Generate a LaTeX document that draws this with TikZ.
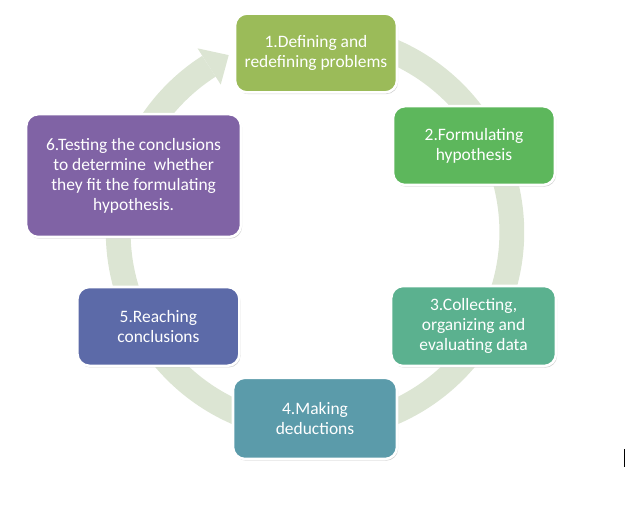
\documentclass[tikz,border=0pt]{standalone}
\usepackage{fontspec}
\setmainfont{Carlito}
\usepackage{tikz,xcolor}
\usetikzlibrary{shadows}
\definecolor{ringc}{HTML}{DCE5D3}
\definecolor{cone}{HTML}{9BBB59}
\definecolor{ctwo}{HTML}{5DB75C}
\definecolor{cthree}{HTML}{5BB18F}
\definecolor{cfour}{HTML}{5B9BAA}
\definecolor{cfive}{HTML}{5C6AA8}
\definecolor{csix}{HTML}{8063A5}

\begin{document}
\begin{tikzpicture}
   \useasboundingbox (0,0) rectangle (16,12.7);

    % the cycle ring with its head
    \begin{scope}[shift={(7.875,6.9)}]
     \draw[color=ringc,line width=0.62cm] (100:4.92) arc[start angle=100,end angle=-237.4,radius=4.92];
     \fill[color=ringc] (122.6:4.375)--(116:4.92)--(122.6:5.45)--cycle;
    \end{scope}

    \tikzstyle{every node}=[draw=white,line width=1.8pt,rounded corners=0.3cm,text=white,align=center,minimum width=4.05cm,minimum height=1.97cm,font=\fontsize{12.4}{14.2}\selectfont,drop shadow={shadow xshift=0.8pt,shadow yshift=-1.2pt,opacity=0.35}]
    \node[fill=cone](v1) at (7.9,11.375){1.Defining and\\redefining problems};
    \node[fill=ctwo](v2) at (11.85,9.06){2.Formulating\\hypothesis};
    \node[fill=cthree,minimum width=4.12cm,minimum height=2cm](v3) at (11.84,4.55){3.Collecting,\\organizing and\\evaluating data};
    \node[fill=cfour,minimum width=4.1cm,minimum height=2.03cm](v4) at (7.875,2.24){4.Making\\deductions};
    \node[fill=cfive](v5) at (3.96,4.54){5.Reaching\\conclusions};
    \node[fill=csix,minimum width=5.37cm,minimum height=3.07cm](v6) at (3.34,8.31){6.Testing the conclusions\\to determine\ \ whether\\they fit the formulating\\hypothesis.};

  \tikzstyle{every node}=[]

  % cursor
  \coordinate (c1) at (15.6,1.475);
  \coordinate (c2) at (15.6,1.025);
  \draw[line width=0.7pt] (c1)--(c2);

  \end{tikzpicture}
\end{document}
